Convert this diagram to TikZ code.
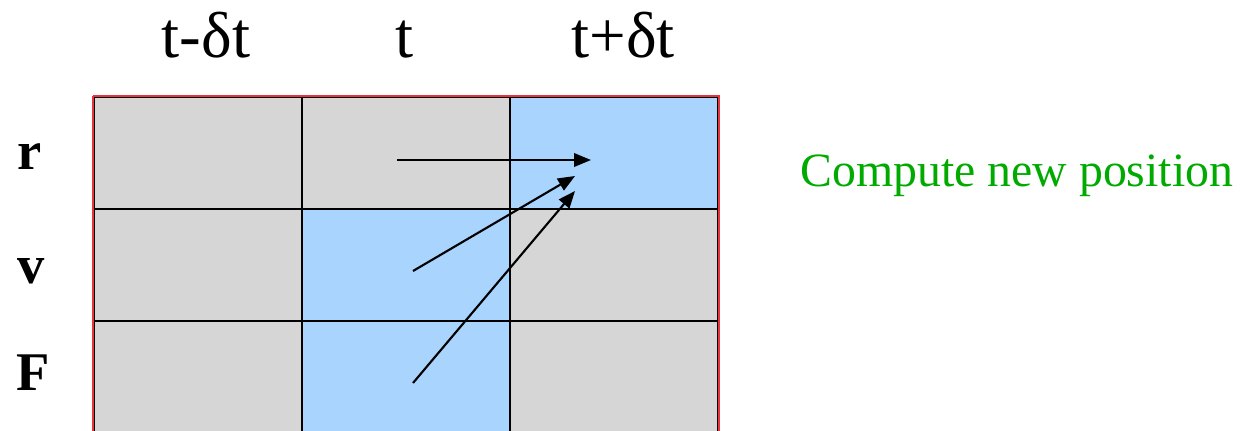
\documentclass[tikz,border=0pt]{standalone}
\usepackage{fontspec}
\setmainfont{Liberation Serif}
\usepackage{xcolor}
\usetikzlibrary{arrows.meta}

\definecolor{cellgray}{HTML}{D6D6D6}
\definecolor{cellblue}{HTML}{A8D4FE}
\definecolor{frame}{HTML}{E8343F}
\definecolor{note}{HTML}{00AA00}

\begin{document}
\begin{tikzpicture}[
  x=0.02cm,y=-0.02cm,
  every node/.style={inner sep=0pt},
  cell/.style={draw=black,line width=1.1pt,fill=cellgray,
               minimum width=4.16cm,minimum height=2.24cm,anchor=north west},
  now/.style={cell,fill=cellblue},
  stamp/.style={anchor=base,font=\fontsize{37}{40}\selectfont},
  quantity/.style={anchor=base,font=\fontsize{31}{34}\selectfont\bfseries},
  update/.style={-{Triangle[length=0.34cm,width=0.27cm]},line width=1.2pt}
]
\useasboundingbox (0,0) rectangle (1240,430);
% time columns
\node[stamp] (prev) at (206,57) {t-δt};
\node[stamp] (curr) at (405,57) {t};
\node[stamp] (next) at (623,57) {t+δt};
% rows
\node[quantity] (rlab) at (30,169) {r};
\node[quantity] (vlab) at (31,283) {v};
\node[quantity] (flab) at (33,390) {F};
% grid
\node[cell] (r-prev) at (93,96)  {};
\node[cell] (r-curr) at (301,96) {};
\node[now]  (r-next) at (509,96) {};
\node[cell] (v-prev) at (93,208)  {};
\node[now]  (v-curr) at (301,208) {};
\node[cell] (v-next) at (509,208) {};
\node[cell] (f-prev) at (93,320)  {};
\node[now]  (f-curr) at (301,320) {};
\node[cell] (f-next) at (509,320) {};
\draw[frame,line width=1.5pt] (r-prev.north west) -- (r-next.north east)
  -- (f-next.south east);
\draw[frame,line width=1.5pt] (r-prev.north west) -- (f-prev.south west);
% integration step
\coordinate (r-from) at (397,160);
\coordinate (v-from) at (413,271);
\coordinate (f-from) at (413,383);
\coordinate (r-to) at (591,160);
\coordinate (v-to) at (575,176);
\coordinate (f-to) at (575,191);
\draw[update] (r-from) -- (r-to);
\draw[update] (v-from) -- (v-to);
\draw[update] (f-from) -- (f-to);
\node[anchor=base west,text=note,font=\fontsize{27.2}{30}\selectfont]
  (step-note) at (800,186) {Compute new position};
\end{tikzpicture}
\end{document}
